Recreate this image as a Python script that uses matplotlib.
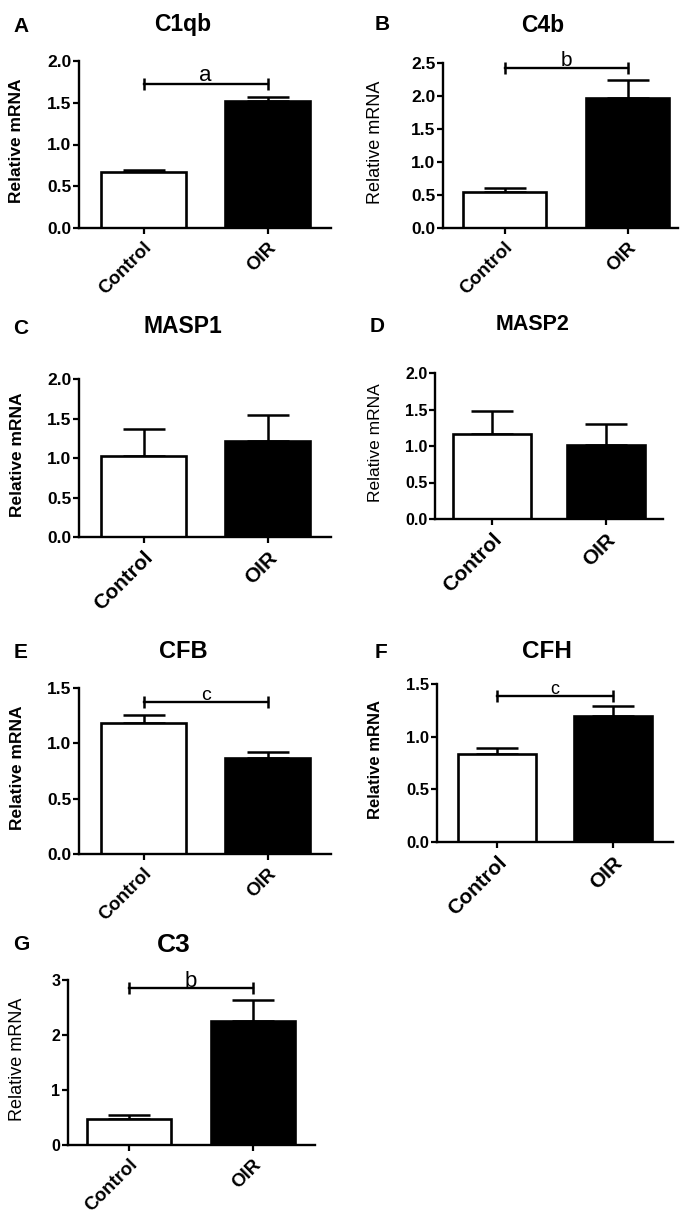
import matplotlib
matplotlib.use("Agg")
import matplotlib.pyplot as plt

plt.rcParams['font.family'] = ['Liberation Sans', 'DejaVu Sans']

# data
genes = ['C1qb', 'C4b', 'MASP1', 'MASP2', 'CFB', 'CFH', 'C3']
panel_letters = ['A', 'B', 'C', 'D', 'E', 'F', 'G']
groups = ['Control', 'OIR']
control_mean = [0.67, 0.54, 1.02, 1.16, 1.18, 0.84, 0.47]
control_err = [0.03, 0.07, 0.35, 0.32, 0.08, 0.05, 0.07]
oir_mean = [1.52, 1.97, 1.22, 1.02, 0.87, 1.20, 2.26]
oir_err = [0.05, 0.28, 0.32, 0.28, 0.05, 0.09, 0.38]
sig_labels = ['a', 'b', None, None, 'c', 'c', 'b']
sig_height = [1.73, 2.42, None, None, 1.37, 1.39, 2.85]
y_max = [2.0, 2.5, 2.0, 2.0, 1.5, 1.5, 3]
y_step = [0.5, 0.5, 0.5, 0.5, 0.5, 0.5, 1]

W, H = 682, 1218

# layout in pixels: axes box (x0, y_top, x1, y_bottom), xlim, fonts
boxes = [(79, 61, 331, 228), (443, 63, 678, 228),
         (79, 379, 331, 537), (435, 373, 663, 519),
         (79, 688, 331, 854), (437, 684, 673, 842),
         (68, 980, 315, 1145)]
xlims = [(-0.52, 1.51), (-0.50, 1.41), (-0.52, 1.51), (-0.50, 1.50),
         (-0.52, 1.51), (-0.52, 1.52), (-0.49, 1.50)]
title_pos = [(183, 25), (543, 26), (183, 327), (533, 324),
             (183, 652), (547, 652), (174, 945)]
letter_pos = [(21, 26), (382, 25), (21, 328), (377, 326),
              (21, 652), (381, 653), (21, 945)]
ylab_x = [17, 376, 18, 375, 18, 375, 18]
ytick_fs = [12.5, 12.5, 12.5, 11.5, 12.5, 12, 11.5]
xtick_fs = [13.5, 13.5, 15, 15, 13.5, 15, 13.5]
ylab_fs = [12.5, 13, 12.5, 12.5, 12.5, 12, 13]
ylab_w = ['bold', 'normal', 'bold', 'normal', 'bold', 'bold', 'normal']
title_fs = [16.5, 16.5, 16.5, 15.5, 17, 17.5, 19]
sig_fs = [16, 15, None, None, 14, 13, 16]
sig_off = [1.5, 1.5, None, None, 2, 1.5, 1]

fig = plt.figure(figsize=(W / 100, H / 100), dpi=100)

for i in range(len(genes)):
    x0, yt, x1, yb = boxes[i]
    ax = fig.add_axes([x0 / W, 1 - yb / H, (x1 - x0) / W, (yb - yt) / H])
    xs = [0, 1]
    means = [control_mean[i], oir_mean[i]]
    errs = [control_err[i], oir_err[i]]
    ax.bar(xs, means, width=0.68, color=['white', 'black'],
           edgecolor='black', linewidth=1.9, zorder=2)
    ax.errorbar(xs, means, yerr=[[0, 0], errs], fmt='none', ecolor='black',
                elinewidth=1.8, capsize=15, capthick=1.8, zorder=1)
    if sig_labels[i]:
        h = sig_height[i]
        ax.plot([0, 1], [h, h], color='black', lw=1.7, marker='|',
                markersize=8, mew=1.8, clip_on=False)
        ax.annotate(sig_labels[i], (0.5, h), xytext=(0, sig_off[i]),
                    textcoords='offset points', ha='center', va='baseline',
                    fontsize=sig_fs[i])
    ax.set_xlim(*xlims[i])
    ax.set_ylim(0, y_max[i])
    n = int(round(y_max[i] / y_step[i]))
    ticks = [k * y_step[i] for k in range(n + 1)]
    ax.set_yticks(ticks)
    if y_step[i] >= 1:
        ax.set_yticklabels(['%d' % t for t in ticks])
    else:
        ax.set_yticklabels(['%.1f' % t for t in ticks])
    ax.set_xticks(xs)
    ax.set_xticklabels(groups, rotation=45, ha='right', rotation_mode='anchor',
                       fontsize=xtick_fs[i], fontweight='bold')
    for lab in ax.get_yticklabels():
        lab.set_fontweight('bold')
        lab.set_fontsize(ytick_fs[i])
    ax.tick_params(axis='both', width=1.6, length=4, pad=1.5)
    ax.tick_params(axis='x', pad=4)
    ax.spines['top'].set_visible(False)
    ax.spines['right'].set_visible(False)
    ax.spines['left'].set_linewidth(1.7)
    ax.spines['bottom'].set_linewidth(1.7)
    ax.set_ylabel('Relative mRNA', fontsize=ylab_fs[i], fontweight=ylab_w[i],
                  va='center')
    ax.yaxis.set_label_coords((ylab_x[i] - x0) / (x1 - x0), 0.52)

    tx, ty = title_pos[i]
    fig.text(tx / W, 1 - ty / H, genes[i], ha='center', va='center',
             fontsize=title_fs[i], fontweight='bold')
    lx, ly = letter_pos[i]
    fig.text(lx / W, 1 - ly / H, panel_letters[i], ha='center', va='center',
             fontsize=15, fontweight='bold')

fig.savefig('out.png', dpi=100, facecolor='white')
